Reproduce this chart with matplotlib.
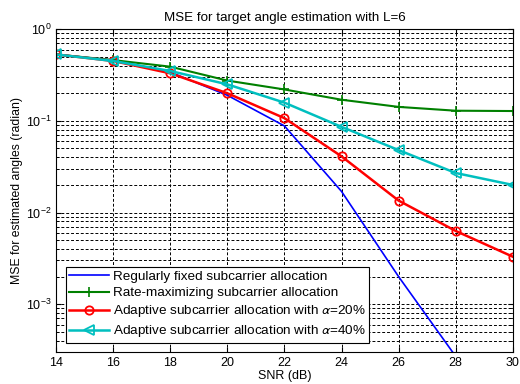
import numpy as np
import matplotlib
matplotlib.use("Agg")
import matplotlib.pyplot as plt

# ==========================
# Dati
# ==========================
snr = [14, 16, 18, 20, 22, 24, 26, 28, 30]
mse_fixed = [0.53, 0.46, 0.34, 0.19, 0.088, 0.017, 0.002, 2.7e-4, 3e-5]
mse_rate = [0.53, 0.46, 0.39, 0.275, 0.22, 0.17, 0.142, 0.129, 0.128]
mse_a20 = [0.53, 0.45, 0.33, 0.20, 0.107, 0.041, 0.0135, 0.0063, 0.0033]
mse_a40 = [0.53, 0.45, 0.35, 0.25, 0.158, 0.086, 0.048, 0.027, 0.020]

labels = ["Regularly fixed subcarrier allocation",
          "Rate-maximizing subcarrier allocation",
          r"Adaptive subcarrier allocation with $\alpha$=20%",
          r"Adaptive subcarrier allocation with $\alpha$=40%"]

plt.rcParams['font.family'] = ['Liberation Sans', 'DejaVu Sans']
plt.rcParams['mathtext.fontset'] = 'stixsans'

fig = plt.figure(figsize=(5.2, 3.84), dpi=100)
ax = fig.add_axes([0.108, 0.083, 0.878, 0.841])

ax.semilogy(snr, mse_fixed, color='#0000ff', lw=1.2, label=labels[0])
ax.semilogy(snr, mse_rate, color='#008000', lw=1.5, marker='+', ms=7,
            mew=1.2, label=labels[1])
ax.semilogy(snr, mse_a20, color='#ff0000', lw=1.8, marker='o', ms=6,
            mfc='none', mew=1.3, label=labels[2])
ax.semilogy(snr, mse_a40, color='#00bfbf', lw=1.8, marker='<', ms=7,
            mfc='none', mew=1.3, label=labels[3])

ax.set_xlim(14, 30)
ax.set_ylim(3e-4, 1)
ax.set_xticks(range(14, 31, 2))
ax.grid(True, which='major', ls=(0, (3, 2)), color='black', lw=0.7)
ax.grid(True, which='minor', axis='y', ls=(0, (3, 2)), color='black', lw=0.7)
ax.tick_params(labelsize=9, direction='in', which='both')
ax.tick_params(which='both', top=True, right=True)

ax.set_title("MSE for target angle estimation with L=6", fontsize=9.6)
ax.set_xlabel("SNR (dB)", fontsize=9, labelpad=1)
ax.set_ylabel("MSE for estimated angles (radian)", fontsize=8.8, labelpad=2)

leg = ax.legend(loc='lower left', fontsize=9.7, fancybox=False, framealpha=1,
                edgecolor='black', borderaxespad=0.7, handlelength=3.0,
                labelspacing=0.3, borderpad=0.25, handletextpad=0.25)
leg.get_frame().set_linewidth(0.8)

fig.savefig("out.png", dpi=100)
